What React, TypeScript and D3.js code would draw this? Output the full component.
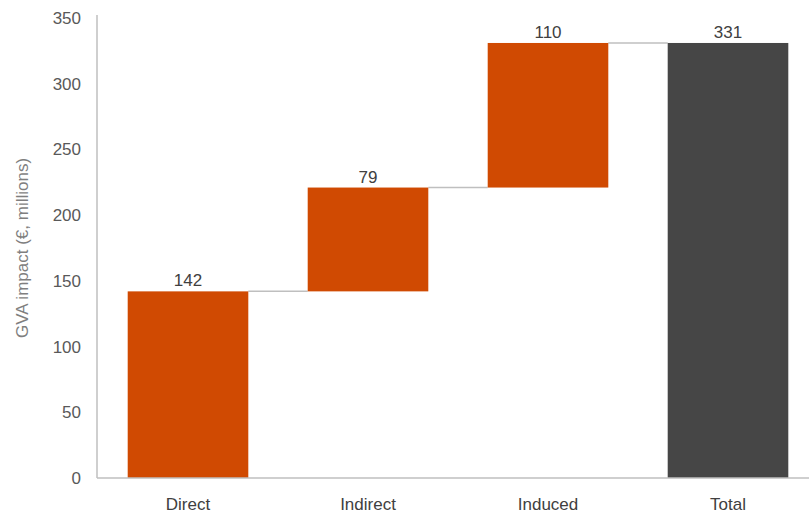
import React from "react";
import * as d3 from "d3";

const categories = ["Direct", "Indirect", "Induced", "Total"];
const values = [142, 79, 110, 331];
const isTotal = [false, false, false, true];
const yTicks = [0, 50, 100, 150, 200, 250, 300, 350];

const W = 809;
const H = 515;
const margin = { left: 98, right: -9, top: 18, bottom: 37 };

export default function App() {
  const x = d3
    .scaleBand<string>()
    .domain(categories)
    .range([margin.left, W - margin.right])
    .paddingInner(0.33)
    .paddingOuter(0.165);
  const y = d3.scaleLinear().domain([0, 350]).range([H - margin.bottom, margin.top]);

  let cum = 0;
  const bars = categories.map((c, i) => {
    const start = isTotal[i] ? 0 : cum;
    const end = isTotal[i] ? values[i] : cum + values[i];
    if (!isTotal[i]) cum = end;
    return { c, v: values[i], start, end, total: isTotal[i] };
  });

  const font = "'Liberation Sans', Arial, sans-serif";
  const y0 = y(0);
  const fs = 17;

  return (
    <svg width={W} height={H} style={{ position: "absolute", left: 0, top: 0, background: "#fff" }} fontFamily={font}>
      {bars.slice(0, -1).map((b, i) => {
        const nx = bars[i + 1];
        return (
          <line
            key={"c" + i}
            x1={x(b.c)! + x.bandwidth()}
            x2={x(nx.c)!}
            y1={y(b.end)}
            y2={y(b.end)}
            stroke="#bfbfbf"
            strokeWidth={1.5}
          />
        );
      })}
      {bars.map((b) => (
        <rect
          key={b.c}
          x={x(b.c)}
          width={x.bandwidth()}
          y={y(b.end)}
          height={y(b.start) - y(b.end)}
          fill={b.total ? "#464646" : "#d04a02"}
        />
      ))}
      {bars.map((b) => (
        <text
          key={"l" + b.c}
          x={x(b.c)! + x.bandwidth() / 2}
          y={y(b.end) - 5}
          textAnchor="middle"
          fontSize={fs}
          fill="#404040"
        >
          {b.v}
        </text>
      ))}
      <line x1={margin.left - 1} x2={margin.left - 1} y1={margin.top - 3} y2={y0} stroke="#bfbfbf" strokeWidth={1.5} />
      <line x1={margin.left - 1} x2={W} y1={y0} y2={y0} stroke="#bfbfbf" strokeWidth={1.5} />
      {yTicks.map((t) => (
        <text key={"t" + t} x={81} y={y(t)} dy="0.35em" textAnchor="end" fontSize={fs} fill="#595959">
          {t}
        </text>
      ))}
      {categories.map((c) => (
        <text key={"x" + c} x={x(c)! + x.bandwidth() / 2} y={510} textAnchor="middle" fontSize={fs} fill="#404040">
          {c}
        </text>
      ))}
      <text
        transform={`translate(28,${(margin.top + y0) / 2}) rotate(-90)`}
        textAnchor="middle"
        fontSize={fs}
        fill="#7f7f7f"
      >
        GVA impact (€, millions)
      </text>
    </svg>
  );
}
